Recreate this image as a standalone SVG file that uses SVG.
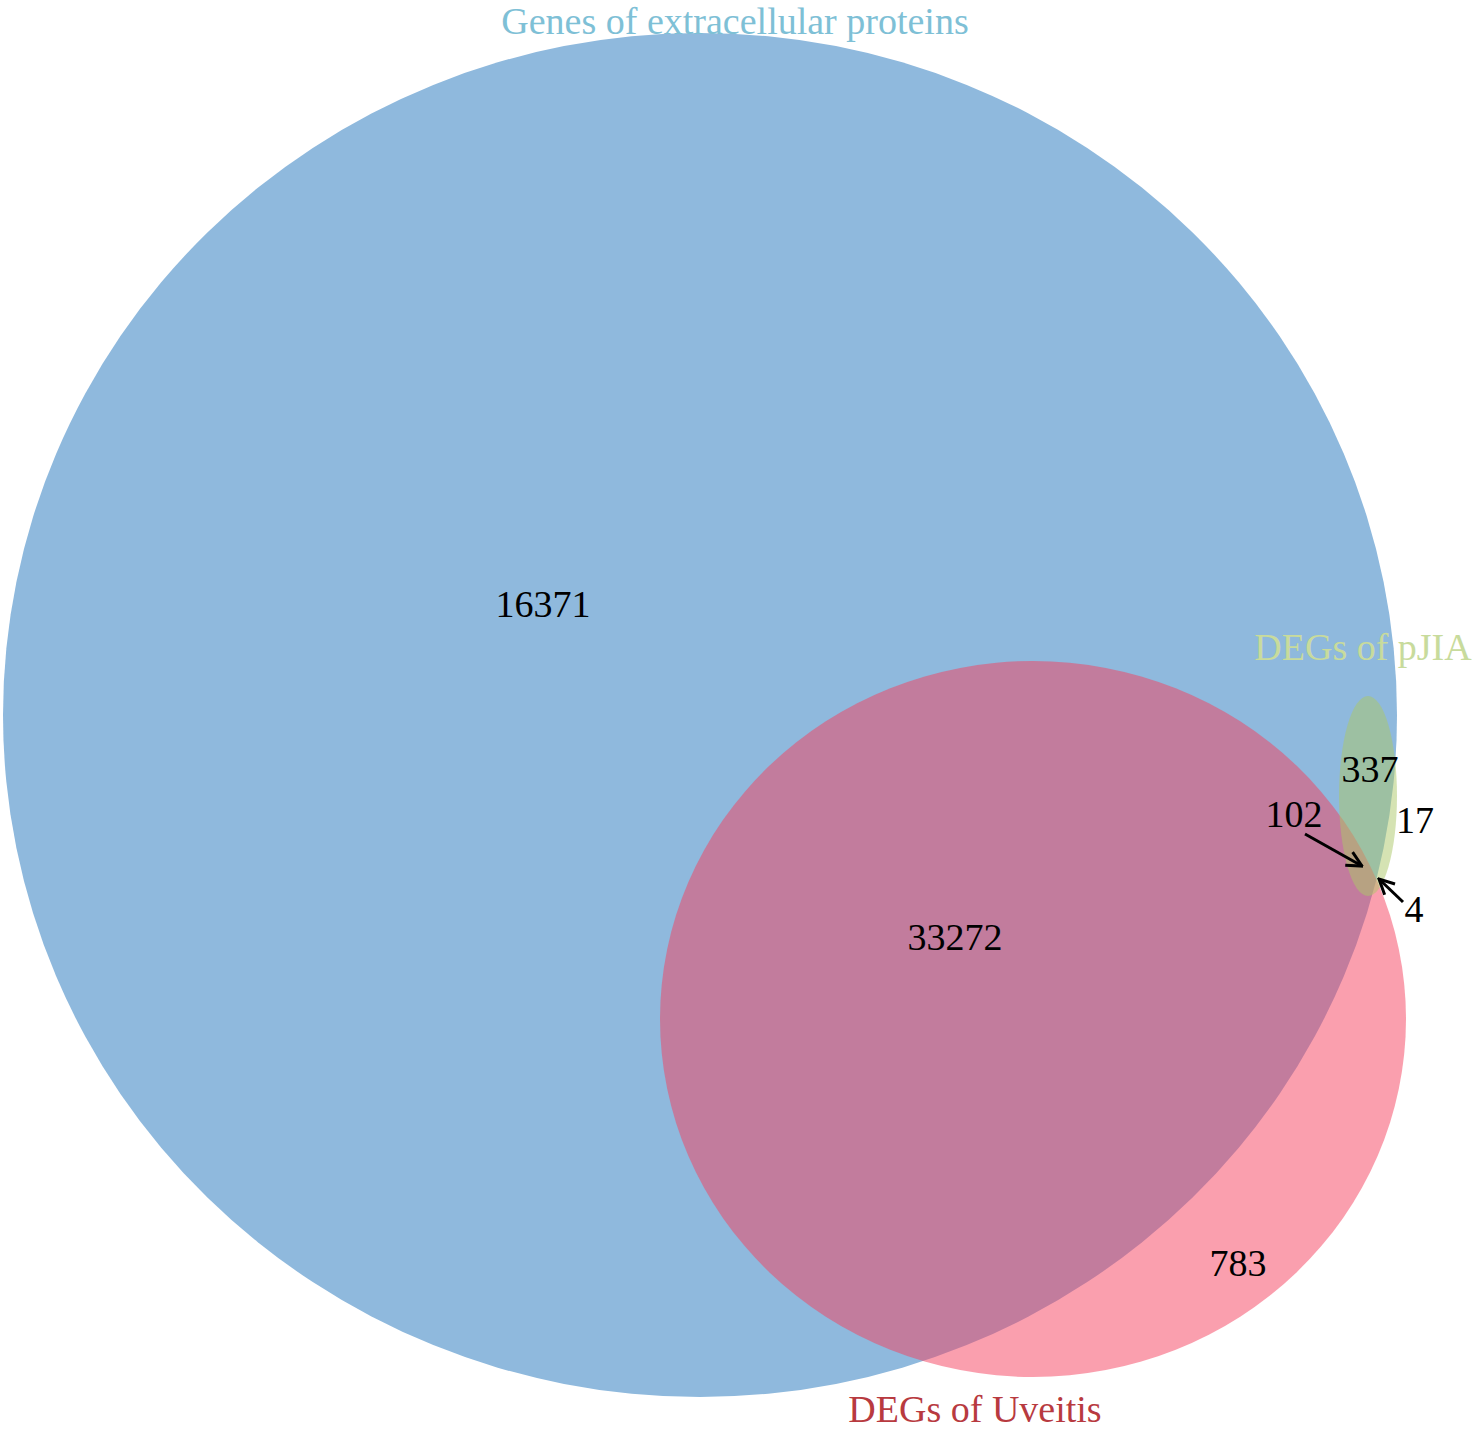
<svg xmlns="http://www.w3.org/2000/svg" width="1476" height="1430" viewBox="0 0 1476 1430">
<style>
.num{font-family:"Liberation Serif","Times New Roman",serif;font-size:38px;fill:#000;text-anchor:middle}
.lab{font-family:"Liberation Serif","Times New Roman",serif;font-size:38px;text-anchor:middle}
.arr{stroke:#000;stroke-width:3;fill:none}
</style>
<defs>
<marker id="ah" viewBox="0 0 12 12" refX="11" refY="6" markerWidth="6" markerHeight="6" markerUnits="strokeWidth" orient="auto">
<path d="M1,1 L11,6 L1,11" fill="none" stroke="#000" stroke-width="2"/>
</marker>
</defs>
<rect width="1476" height="1430" fill="#fff"/>
<g id="set-extracellular">
<ellipse cx="700" cy="715" rx="697" ry="682" fill="#8FB9DD"/>
</g>
<g id="set-uveitis">
<ellipse cx="1033" cy="1019" rx="373" ry="358" fill="#F53F5D" fill-opacity="0.5"/>
</g>
<g id="set-pjia">
<ellipse cx="1368" cy="796" rx="29" ry="100" fill="#ABC767" fill-opacity="0.5"/>
</g>
<g id="labels">
<text class="lab" x="735" y="34" fill="#7EC0D6">Genes of extracellular proteins</text>
<text class="lab" x="1363" y="660" fill="#C8DB9C">DEGs of pJIA</text>
<text class="lab" x="975" y="1422" fill="#B83A40">DEGs of Uveitis</text>
</g>
<g id="counts">
<text class="num" x="543" y="617">16371</text>
<text class="num" x="955" y="950">33272</text>
<text class="num" x="1238" y="1276">783</text>
<text class="num" x="1370" y="782">337</text>
<text class="num" x="1415" y="833">17</text>
<text class="num" x="1294" y="827">102</text>
<text class="num" x="1414" y="922">4</text>
</g>
<g id="connectors">
<line class="arr" x1="1305" y1="834" x2="1362" y2="866" marker-end="url(#ah)"/>
<line class="arr" x1="1403" y1="902" x2="1379" y2="879" marker-end="url(#ah)"/>
</g>
</svg>
